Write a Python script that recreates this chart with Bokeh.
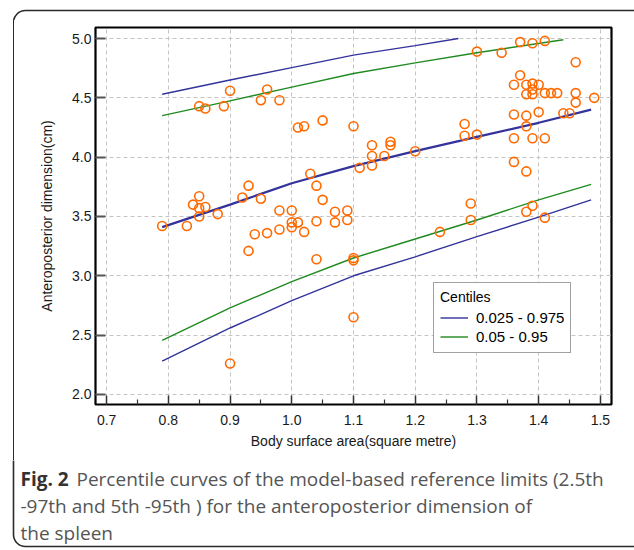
from bokeh.plotting import figure
from bokeh.layouts import column, row
from bokeh.models import (FixedTicker, PrintfTickFormatter, Legend, LegendItem,
                          Range1d, Spacer)
from bokeh.core.properties import value
from bokeh.embed import file_html
from bokeh.resources import INLINE

# observed data: body surface area (m^2) vs anteroposterior dimension (cm)
bsa = [0.79, 0.83, 0.84, 0.85, 0.85, 0.86, 0.85, 0.88, 0.85, 0.86, 0.89, 0.90, 0.90,
       0.92, 0.93, 0.93, 0.94, 0.95, 0.95, 0.96, 0.96, 0.98, 0.98, 0.98, 1.00, 1.00,
       1.00, 1.01, 1.01, 1.02, 1.02, 1.03, 1.04, 1.04, 1.04, 1.05, 1.05, 1.07, 1.07,
       1.09, 1.09, 1.10, 1.10, 1.10, 1.10, 1.11, 1.13, 1.13, 1.13, 1.15, 1.16, 1.16,
       1.20, 1.24, 1.28, 1.28, 1.29, 1.29, 1.30, 1.30, 1.34, 1.36, 1.36, 1.36, 1.36,
       1.37, 1.37, 1.38, 1.38, 1.38, 1.38, 1.38, 1.38, 1.39, 1.39, 1.39, 1.39, 1.39,
       1.39, 1.40, 1.40, 1.41, 1.41, 1.41, 1.41, 1.42, 1.43, 1.44, 1.45, 1.46, 1.46,
       1.46, 1.49]
ap = [3.42, 3.42, 3.60, 3.67, 3.57, 3.58, 3.50, 3.52, 4.43, 4.41, 4.43, 4.56, 2.26,
      3.66, 3.76, 3.21, 3.35, 4.48, 3.65, 4.57, 3.36, 4.48, 3.55, 3.39, 3.55, 3.45,
      3.41, 4.25, 3.45, 4.26, 3.37, 3.86, 3.76, 3.46, 3.14, 4.31, 3.64, 3.54, 3.45,
      3.55, 3.47, 4.26, 3.15, 3.13, 2.65, 3.91, 4.10, 4.01, 3.93, 4.01, 4.13, 4.10,
      4.05, 3.37, 4.28, 4.18, 3.61, 3.47, 4.89, 4.19, 4.88, 4.61, 4.36, 4.16, 3.96,
      4.97, 4.69, 4.61, 4.53, 4.35, 4.26, 3.88, 3.54, 4.96, 4.62, 4.57, 4.53, 4.16,
      3.59, 4.61, 4.38, 4.98, 4.54, 4.16, 3.49, 4.54, 4.54, 4.37, 4.37, 4.80, 4.54,
      4.46, 4.50]

# centile curves
x_curve = [0.79, 0.90, 1.00, 1.10, 1.20, 1.30, 1.40, 1.485]
median = [3.41, 3.60, 3.78, 3.925, 4.05, 4.17, 4.29, 4.40]
low_975 = [2.28, 2.56, 2.79, 3.00, 3.16, 3.33, 3.495, 3.64]
low_95 = [2.455, 2.73, 2.95, 3.15, 3.31, 3.47, 3.64, 3.77]
x_up975 = [0.79, 0.90, 1.00, 1.10, 1.20, 1.27]
up_975 = [4.53, 4.65, 4.755, 4.86, 4.94, 5.00]
x_up95 = [0.79, 0.90, 1.00, 1.10, 1.20, 1.30, 1.44]
up_95 = [4.35, 4.475, 4.59, 4.705, 4.795, 4.88, 4.99]

x_ticks = [0.7, 0.8, 0.9, 1.0, 1.1, 1.2, 1.3, 1.4, 1.5]
x_minor = [0.75, 0.85, 0.95, 1.05, 1.15, 1.25, 1.35, 1.45]
y_ticks = [2.0, 2.5, 3.0, 3.5, 4.0, 4.5, 5.0]

legend_labels = ["0.025 - 0.975", "0.05 - 0.95"]
caption_bold = "Fig. 2"
caption_lines = ["Percentile curves of the model-based reference limits (2.5th",
                 "-97th and 5th -95th ) for the anteroposterior dimension of",
                 "the spleen"]

BLUE = "#33339b"
GREEN = "#1f8a1f"
ORANGE = "#ff6a00"
FONT = "Liberation Sans"
CAP_FONT = "Open Sans"
BORDER = "#2a2a2a"

W = 634
TOP_H = 20
CHART_H = 440
BOT_H = 550 - TOP_H - CHART_H
LEFT_W = 14


def strip(width, height, x0, y0):
    """Decoration figure whose data units are page pixels (y downward)."""
    f = figure(width=width, height=height, output_backend="svg",
               toolbar_location=None, x_axis_type=None, y_axis_type=None,
               x_range=Range1d(x0, x0 + width), y_range=Range1d(y0 + height, y0),
               min_border=0, min_border_left=0, min_border_right=0,
               min_border_top=0, min_border_bottom=0,
               background_fill_color="white", border_fill_color="white")
    f.outline_line_color = None
    f.xgrid.visible = False
    f.ygrid.visible = False
    # rounded outer frame of the figure panel (page pixel coordinates)
    f.quad(left=13, right=700, top=10, bottom=546, fill_color=None,
           line_color=BORDER, line_width=1.6, border_radius=12)
    return f


top_fig = strip(W, TOP_H, 0, 0)
bot_fig = strip(W, BOT_H, 0, TOP_H + CHART_H)

# caption
bot_fig.text(x=[20], y=[478], text=[caption_bold], text_font=value(CAP_FONT),
             text_font_size="19px", text_font_style="bold", text_color="#333333",
             text_baseline="middle")
bot_fig.text(x=[76, 20, 20], y=[478, 505, 532], text=caption_lines,
             text_font=value(CAP_FONT), text_font_size="19px",
             text_color="#555555", text_baseline="middle")

# left edge of the rounded frame, beside the chart
left_edge = Spacer(width=LEFT_W, height=CHART_H,
                   styles={"box-sizing": "border-box",
                           "border-right": "1.6px solid " + BORDER})

p = figure(width=W - LEFT_W, height=CHART_H, output_backend="svg",
           toolbar_location=None,
           x_range=Range1d(0.682, 1.518), y_range=Range1d(1.915, 5.093),
           min_border_left=95 - LEFT_W, min_border_right=23, min_border_top=7,
           min_border_bottom=56, background_fill_color="white",
           border_fill_color="white")

p.outline_line_color = "black"
p.outline_line_width = 2.2

for g in (p.xgrid, p.ygrid):
    g.grid_line_color = "#c4c4c4"
    g.grid_line_dash = "4 3"
    g.grid_line_width = 1

p.xaxis.ticker = FixedTicker(ticks=x_ticks, minor_ticks=x_minor)
p.yaxis.ticker = FixedTicker(ticks=y_ticks)
p.xaxis.formatter = PrintfTickFormatter(format="%.1f")
p.yaxis.formatter = PrintfTickFormatter(format="%.1f")

for ax in (p.xaxis, p.yaxis):
    ax.axis_line_color = None
    ax.major_tick_out = 0
    ax.minor_tick_out = 0
    ax.major_label_text_font = FONT
    ax.major_label_text_font_size = "14px"
    ax.major_label_text_color = "#1a1a1a"
    ax.axis_label_text_font = FONT
    ax.axis_label_text_font_size = "14px"
    ax.axis_label_text_font_style = "normal"
    ax.axis_label_text_color = "#1a1a1a"

p.xaxis.major_tick_in = 9
p.xaxis.minor_tick_in = 5
p.xaxis.major_tick_line_color = "#333333"
p.xaxis.major_tick_line_width = 1.5
p.xaxis.minor_tick_line_color = "#333333"
p.xaxis.minor_tick_line_width = 1.2
p.xaxis.major_label_standoff = 10
p.xaxis.axis_label = "Body surface area(square metre)"
p.xaxis.axis_label_standoff = 5

p.yaxis.major_tick_in = 10
p.yaxis.minor_tick_in = 0
p.yaxis.minor_tick_line_color = None
p.yaxis.major_tick_line_color = "#555555"
p.yaxis.major_tick_line_width = 2
p.yaxis.major_label_standoff = 4
p.yaxis.axis_label = "Anteroposterior dimension(cm)"
p.yaxis.axis_label_standoff = 14

r_up975 = p.line(x_up975, up_975, line_color=BLUE, line_width=1.4)
p.line(x_curve, low_975, line_color=BLUE, line_width=1.4)
r_up95 = p.line(x_up95, up_95, line_color=GREEN, line_width=1.4)
p.line(x_curve, low_95, line_color=GREEN, line_width=1.4)
p.line(x_curve, median, line_color=BLUE, line_width=2.3)

p.scatter(bsa, ap, marker="circle", size=9, fill_color=None,
          line_color=ORANGE, line_width=1.6)

legend = Legend(items=[LegendItem(label=legend_labels[0], renderers=[r_up975]),
                       LegendItem(label=legend_labels[1], renderers=[r_up95])],
                location=(338, 51), title="Centiles")
legend.title_text_font = FONT
legend.title_text_font_size = "14px"
legend.title_text_font_style = "normal"
legend.title_text_color = "black"
legend.title_standoff = 3
legend.label_text_font = FONT
legend.label_text_font_size = "15px"
legend.label_text_color = "black"
legend.label_standoff = 8
legend.label_height = 19
legend.glyph_height = 19
legend.glyph_width = 28
legend.spacing = 0
legend.padding = 6
legend.margin = 0
legend.border_line_color = "#444444"
legend.border_line_width = 1
legend.background_fill_color = "white"
legend.background_fill_alpha = 1
p.add_layout(legend)

page = column(top_fig, row(left_edge, p, spacing=0), bot_fig, spacing=0)

open("out.html", "w").write(file_html(page, INLINE))
